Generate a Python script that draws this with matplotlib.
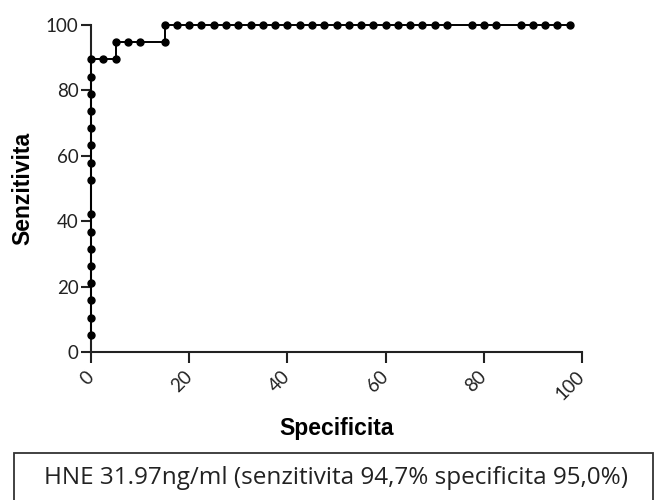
import matplotlib
matplotlib.use("Agg")
import matplotlib.pyplot as plt
from matplotlib.patches import Rectangle

# ROC points: 100% - specificity (x) vs sensitivity (y)
specificita = [0, 0, 0, 0, 0, 0, 0, 0, 0, 0, 0, 0, 0, 0, 0, 0,
               2.5, 5, 5, 7.5, 10, 15, 15,
               17.5, 20, 22.5, 25, 27.5, 30, 32.5, 35, 37.5, 40, 42.5, 45,
               47.5, 50, 52.5, 55, 57.5, 60, 62.5, 65, 67.5, 70, 72.5,
               77.5, 80, 82.5, 87.5, 90, 92.5, 95, 97.5]
senzitivita = [5.26, 10.53, 15.79, 21.05, 26.32, 31.58, 36.84, 42.11,
               52.63, 57.89, 63.16, 68.42, 73.68, 78.95, 84.21, 89.47,
               89.47, 89.47, 94.74, 94.74, 94.74, 94.74, 100,
               100, 100, 100, 100, 100, 100, 100, 100, 100, 100, 100, 100,
               100, 100, 100, 100, 100, 100, 100, 100, 100, 100, 100,
               100, 100, 100, 100, 100, 100, 100, 100]

ticks = [0, 20, 40, 60, 80, 100]
caption = "HNE 31.97ng/ml (senzitivita 94,7% specificita 95,0%)"

fig = plt.figure(figsize=(6.59, 5.0), dpi=100)
ax = fig.add_axes([91 / 659, 1 - 352 / 500, (582 - 91) / 659, (352 - 25) / 500])

ax.plot(specificita, senzitivita, color="black", lw=1.4, marker="o",
        markersize=5, markerfacecolor="black", markeredgecolor="black",
        clip_on=False, zorder=3)

ax.set_xlim(0, 100)
ax.set_ylim(0, 100)
ax.set_xticks(ticks)
ax.set_yticks(ticks)
ax.set_xticklabels([str(t) for t in ticks], rotation=45, ha="right", va="center",
                   rotation_mode="anchor", family="Lato", fontsize=13.5,
                   color="#222222")
ax.set_yticklabels([str(t) for t in ticks], family="Lato", fontsize=13.5,
                   color="#222222")
ax.tick_params(axis="x", direction="out", length=8, width=1.5, pad=8, colors="#222222")
ax.tick_params(axis="y", direction="out", length=7, width=1.5, pad=2, colors="#222222")

for side in ("top", "right"):
    ax.spines[side].set_visible(False)
for side in ("left", "bottom"):
    ax.spines[side].set_linewidth(1.5)
    ax.spines[side].set_color("#222222")

ax.set_xlabel("Specificita", family="Liberation Sans", fontweight="bold",
              fontsize=16.5, labelpad=10)
ax.set_ylabel("Senzitivita", family="Liberation Sans", fontweight="bold",
              fontsize=16.5, labelpad=8)

# caption box along the bottom edge
fig.patches.append(Rectangle((14 / 659, -0.05), (653 - 14) / 659, 0.05 + 1 - 453 / 500,
                             transform=fig.transFigure, fill=False,
                             edgecolor="#333333", lw=1.3))
fig.text(0.51, 1 - 478 / 500, caption, ha="center", va="center",
         family="Open Sans", fontsize=17.5, color="#222222")

fig.savefig("out.png", dpi=100)
